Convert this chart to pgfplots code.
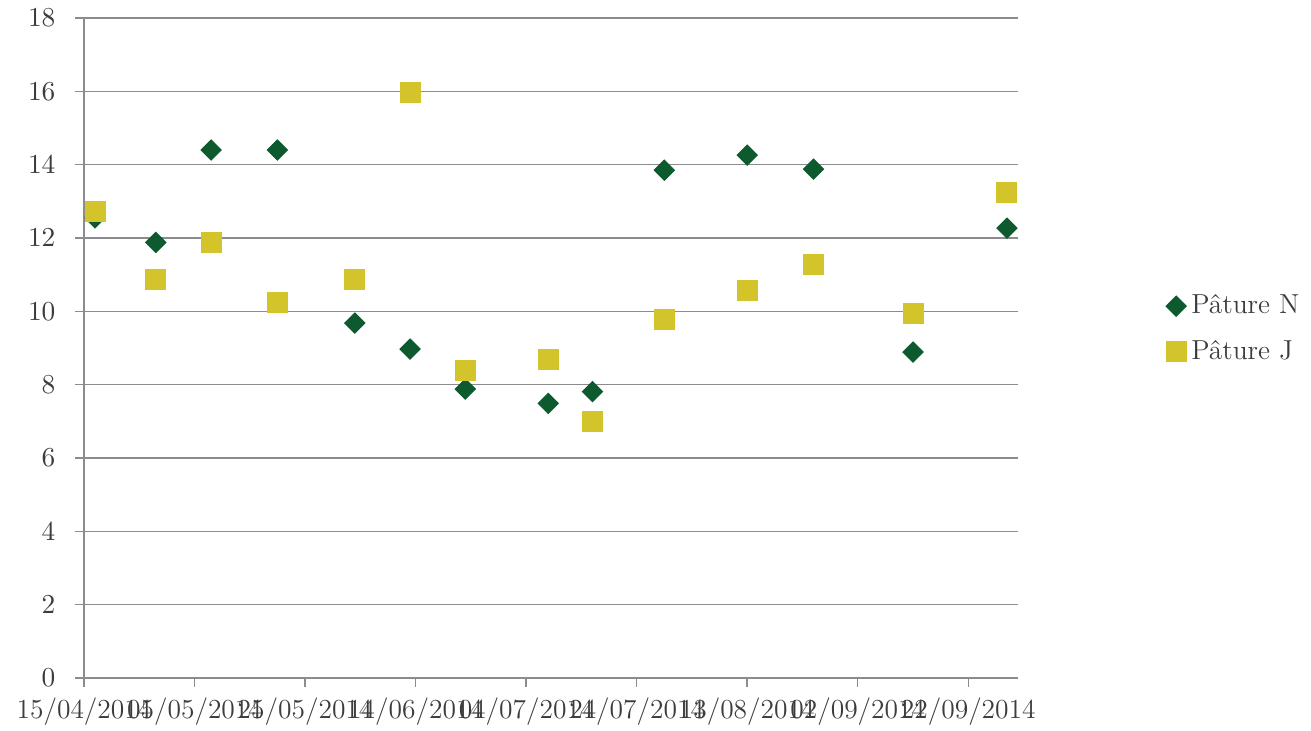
\documentclass[border=0pt]{standalone}
\usepackage{pgfplots}
\pgfplotsset{compat=1.18}
\definecolor{gN}{RGB}{12,90,46}
\definecolor{yJ}{RGB}{210,196,42}
\definecolor{gridc}{RGB}{140,140,140}
\definecolor{txt}{RGB}{60,60,60}
\pgfplotstableread{
day N J
2 12.55 12.71
13 11.88 10.88
23 14.40 11.88
35 14.40 10.23
49 9.68 10.88
59 8.97 15.98
69 7.88 8.40
84 7.49 8.70
92 7.81 6.99
105 13.85 9.79
120 14.26 10.58
132 13.88 11.29
150 8.89 9.93
167 12.27 13.23
}\data
\begin{document}
\begin{tikzpicture}
\useasboundingbox (-33.6pt,-20.8pt) rectangle (490.8pt,271.2pt);
\begin{axis}[
 at={(0pt,0pt)}, anchor=south west,
 scale only axis, width=373.6pt, height=264pt,
 xmin=0, xmax=169, ymin=0, ymax=18,
 axis x line*=bottom, axis y line*=left,
 axis line style={gridc, line width=0.6pt, -},
 xtick={0,20,...,160},
 xticklabels={15/04/2014,05/05/2014,25/05/2014,14/06/2014,04/07/2014,24/07/2014,13/08/2014,02/09/2014,22/09/2014},
 ytick={0,2,...,18},
 ymajorgrids, grid style={gridc, line width=0.6pt},
 tick align=outside, major tick length=3.4pt,
 tick style={gridc, line width=0.6pt},
 ticklabel style={font=\fontsize{11}{13}\selectfont, text=txt},
 yticklabel style={xshift=-4.5pt},
 xticklabel style={yshift=-1.2pt},
 legend style={at={(1.15,0.529)}, anchor=west, draw=none, fill=none,
   font=\fontsize{11}{13}\selectfont, text=txt, row sep=5pt,
   legend cell align=left},
 legend image code/.code={\draw[#1] plot coordinates {(0.1cm,0cm)};},
]
\addplot[only marks, mark=square*, mark size=2.85pt, mark options={rotate=45, fill=gN, draw=gN}] table[x=day,y=N] {\data};
\addlegendentry{Pâture N}
\addplot[only marks, mark=square*, mark size=4pt, mark options={fill=yJ, draw=yJ}] table[x=day,y=J] {\data};
\addlegendentry{Pâture J}
\end{axis}
\end{tikzpicture}
\end{document}
